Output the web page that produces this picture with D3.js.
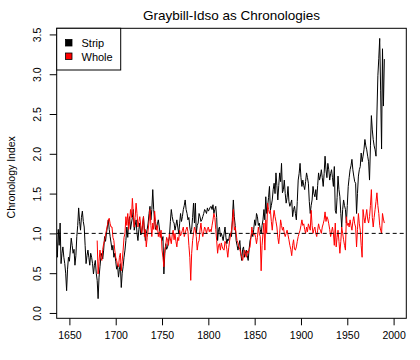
<!DOCTYPE html>
<html>
<head>
<meta charset="utf-8">
<script src="https://cdn.jsdelivr.net/npm/d3@7"></script>
<style>
  body { margin: 0; background: #fff; }
  text { font-family: "Liberation Sans", Arial, sans-serif; fill: #000; }
</style>
</head>
<body>
<script>
// Strip bark chronology, one value per year from stripStart
var stripStart = 1636;
var stripValues = [
  0.92,0.70,1.05,0.85,1.13,0.62,0.75,0.83,0.70,0.62,
  0.50,0.28,0.55,0.70,0.65,0.79,0.94,0.85,0.75,0.80,
  0.60,0.72,0.96,1.10,1.32,1.15,1.04,1.20,1.28,1.15,
  1.08,0.85,0.62,0.72,0.79,0.70,0.60,0.75,0.70,0.62,
  0.49,0.60,0.66,0.50,0.41,0.18,0.45,0.58,0.70,0.75,
  0.68,0.79,0.96,0.90,1.00,1.08,1.17,1.05,0.96,0.88,
  0.79,0.85,0.70,0.75,0.65,0.55,0.60,0.45,0.55,0.62,
  0.32,0.50,0.58,0.70,0.79,0.91,1.08,0.95,1.15,1.21,
  1.05,1.13,1.20,1.30,1.04,1.10,1.17,1.00,0.91,1.05,
  1.13,0.98,1.00,1.10,1.21,1.04,0.91,1.00,1.05,1.13,
  1.25,1.34,1.17,1.30,1.55,1.30,1.17,1.05,1.08,1.12,
  1.17,1.08,1.00,0.95,0.91,0.96,0.49,0.75,0.87,0.80,
  0.83,0.90,0.96,1.15,1.30,1.21,1.15,1.13,1.04,1.10,
  1.17,1.08,1.00,1.12,1.25,1.15,1.21,1.30,1.35,1.42,
  1.30,1.25,1.17,1.20,1.08,1.00,1.05,1.20,1.38,1.13,
  1.38,1.00,1.10,1.13,1.25,1.21,1.15,1.17,1.21,1.25,
  1.30,1.28,1.25,1.32,1.28,1.30,1.33,1.34,1.30,1.36,
  1.25,1.30,1.34,1.20,0.91,1.05,1.08,0.96,1.00,0.96,
  0.91,1.00,1.08,0.95,0.87,0.93,0.91,1.00,1.00,0.96,
  1.20,1.42,1.21,1.10,0.91,0.85,0.79,0.85,0.91,0.75,
  0.66,0.80,0.83,0.70,0.75,0.79,0.72,0.66,0.80,0.91,
  0.95,1.00,0.96,1.05,1.17,1.10,1.25,1.21,1.10,1.13,
  1.05,1.00,1.10,1.17,1.30,1.17,1.46,1.25,1.34,1.45,
  1.59,1.29,1.35,1.42,1.55,1.63,1.50,1.76,1.60,1.42,
  1.60,1.76,1.65,1.88,1.51,1.55,1.67,1.50,1.38,1.45,
  1.59,1.40,1.34,1.38,1.42,1.21,1.30,1.34,1.25,1.17,
  1.40,1.67,1.75,1.88,1.70,1.59,1.67,1.60,1.55,1.65,
  1.76,1.70,1.63,1.40,1.25,1.35,1.42,1.59,1.50,1.46,
  1.55,1.42,1.60,1.76,1.67,1.72,1.80,1.70,1.59,1.75,
  1.97,1.80,1.70,1.88,1.80,1.67,1.75,1.80,1.70,1.59,
  1.84,1.29,1.25,1.45,1.72,1.55,1.46,1.25,1.08,1.30,
  1.42,1.35,1.30,1.13,1.35,1.59,1.70,1.80,1.85,1.93,
  1.80,1.72,1.65,1.63,1.25,1.50,1.72,1.80,1.84,2.01,
  1.90,1.97,2.05,2.18,2.10,2.05,1.97,1.90,1.67,2.10,
  2.48,2.30,2.18,2.10,2.05,1.97,2.50,2.98,3.20,3.45,
  2.80,2.06,3.32,2.60,3.19
];

// Whole bark chronology
var wholeStart = 1680;
var wholeValues = [
  0.91,0.49,0.65,0.79,0.70,0.66,0.80,0.87,0.91,0.98,
  1.04,1.10,1.17,1.19,1.12,1.08,1.08,0.95,0.91,0.79,
  0.70,0.66,0.60,0.58,0.70,0.75,0.53,0.65,0.79,0.95,
  1.00,1.21,1.10,1.25,1.05,1.15,1.30,1.20,1.44,1.25,
  1.08,1.20,1.38,1.25,1.08,1.15,1.21,1.10,1.00,1.12,
  1.21,0.96,1.05,0.83,0.95,1.04,1.15,1.30,1.10,0.96,
  1.13,1.05,1.28,1.15,1.04,1.10,0.96,1.02,0.95,1.04,
  0.79,0.70,0.58,0.79,0.85,0.95,0.91,0.85,1.00,0.93,
  0.87,0.98,1.04,0.92,1.00,0.90,0.83,0.95,0.91,1.04,
  0.97,1.00,1.04,1.08,0.96,1.00,1.05,1.08,1.02,0.85,
  0.70,0.41,0.75,0.91,1.00,1.08,1.04,0.96,0.79,0.88,
  0.91,1.04,1.13,1.02,0.96,1.02,1.08,1.05,1.00,1.06,
  1.08,1.02,1.05,1.02,1.10,1.17,1.25,1.20,1.05,0.91,
  0.75,0.85,0.87,0.79,0.88,0.83,0.80,0.79,0.90,0.87,
  0.80,0.70,0.82,0.91,0.98,1.04,1.15,1.30,1.04,1.08,
  1.00,0.91,0.88,0.83,0.80,0.75,0.70,0.66,0.72,0.79,
  0.74,0.70,0.78,0.75,0.80,0.83,0.95,1.08,1.00,0.98,
  1.00,0.95,0.87,0.95,1.08,1.00,0.96,0.53,0.85,1.00,
  1.13,0.79,1.17,1.00,1.38,1.30,1.25,1.29,1.15,1.04,
  1.18,1.29,1.21,1.15,1.08,0.95,0.87,1.00,1.17,1.10,
  1.04,1.08,1.00,0.96,1.00,1.04,0.98,0.92,0.85,0.80,
  0.72,0.85,0.92,0.80,0.79,0.83,0.90,0.96,1.00,1.04,
  1.10,1.17,1.10,1.12,1.05,1.00,1.08,1.02,1.12,1.08,
  1.04,1.29,1.10,1.00,1.05,1.08,1.00,0.96,1.04,1.12,
  1.06,1.04,1.00,1.08,1.12,1.17,1.27,1.15,1.21,1.18,
  1.12,1.05,0.96,1.02,1.08,1.00,0.85,1.13,0.83,0.95,
  1.04,0.90,0.75,0.90,1.08,1.00,0.92,0.85,0.79,1.21,
  1.10,1.13,1.08,1.17,1.10,1.04,1.15,1.21,1.12,1.08,
  0.83,1.05,1.25,1.12,1.04,0.85,0.70,1.30,1.20,1.13,
  1.22,1.30,1.18,1.13,1.21,1.35,1.55,1.20,1.08,1.20,
  1.30,1.40,1.51,1.35,1.25,1.10,1.04,1.00,1.25,1.18,
  1.13
];

var xTicks = [1650, 1700, 1750, 1800, 1850, 1900, 1950, 2000];
var yTicks = [0, 0.5, 1, 1.5, 2, 2.5, 3, 3.5];
var seriesNames = ["Strip", "Whole"];
var seriesColors = ["#000000", "#ff0000"];

var W = 420, H = 360;
var plot = {left: 56.7, right: 406.3, top: 28.3, bottom: 318.3};

var svg = d3.select("body").append("svg")
    .attr("width", W).attr("height", H);

var x = d3.scaleLinear().domain([1636.3, 2013.7]).range([plot.left, plot.right]);
var y = d3.scaleLinear().domain([-0.067, 3.577]).range([plot.bottom, plot.top]);

function toPoints(start, vals) {
  return vals.map(function(v, i) { return [start + i, v]; });
}

var line = d3.line()
    .x(function(d) { return x(d[0]); })
    .y(function(d) { return y(d[1]); });

svg.append("clipPath").attr("id", "clip")
  .append("rect")
    .attr("x", plot.left).attr("y", plot.top)
    .attr("width", plot.right - plot.left).attr("height", plot.bottom - plot.top);

var g = svg.append("g").attr("clip-path", "url(#clip)");

g.append("path")
    .attr("d", line(toPoints(stripStart, stripValues)))
    .attr("fill", "none").attr("stroke", seriesColors[0]).attr("stroke-width", 1);

g.append("path")
    .attr("d", line(toPoints(wholeStart, wholeValues)))
    .attr("fill", "none").attr("stroke", seriesColors[1]).attr("stroke-width", 1);

// reference line at 1
g.append("line")
    .attr("x1", plot.left).attr("x2", plot.right)
    .attr("y1", y(1)).attr("y2", y(1))
    .attr("stroke", "#000").attr("stroke-dasharray", "4,3");

// axes
var xAxis = svg.append("g")
    .attr("transform", "translate(0," + plot.bottom + ")")
    .call(d3.axisBottom(x).tickValues(xTicks).tickSize(7).tickPadding(6).tickFormat(d3.format("d")));
xAxis.select(".domain").remove();
xAxis.selectAll("text").style("font-size", "10.5px").style("font-family", "'Liberation Sans', Arial, sans-serif");

var yAxis = svg.append("g")
    .attr("transform", "translate(" + plot.left + ",0)")
    .call(d3.axisLeft(y).tickValues(yTicks).tickSize(7).tickFormat(d3.format(".1f")));
yAxis.select(".domain").remove();
yAxis.selectAll("text")
    .style("font-size", "10.5px")
    .style("font-family", "'Liberation Sans', Arial, sans-serif")
    .attr("x", null).attr("dy", null)
    .attr("text-anchor", "middle")
    .attr("transform", "translate(-16,0) rotate(-90)")
    .attr("y", 0);

svg.append("rect")
    .attr("x", plot.left).attr("y", plot.top)
    .attr("width", plot.right - plot.left).attr("height", plot.bottom - plot.top)
    .attr("fill", "none").attr("stroke", "#000");

// titles
svg.append("text")
    .attr("x", (plot.left + plot.right) / 2).attr("y", 20)
    .attr("text-anchor", "middle").style("font-size", "13.5px")
    .text("Graybill-Idso as Chronologies");

svg.append("text")
    .attr("transform", "translate(15," + ((plot.top + plot.bottom) / 2 + 4) + ") rotate(-90)")
    .attr("text-anchor", "middle").style("font-size", "10.5px")
    .text("Chronology Index");

// legend
var lg = svg.append("g");
lg.append("rect")
    .attr("x", plot.left).attr("y", plot.top)
    .attr("width", 64).attr("height", 41.7)
    .attr("fill", "#fff").attr("stroke", "#000");
seriesNames.forEach(function(name, i) {
  lg.append("rect")
      .attr("x", 65.5).attr("y", 39.5 + i * 13.5)
      .attr("width", 6.5).attr("height", 6.5)
      .attr("fill", seriesColors[i]).attr("stroke", "#000").attr("stroke-width", 0.8);
  lg.append("text")
      .attr("x", 81.5).attr("y", 47 + i * 13.5)
      .style("font-size", "11px")
      .text(name);
});
</script>
</body>
</html>
